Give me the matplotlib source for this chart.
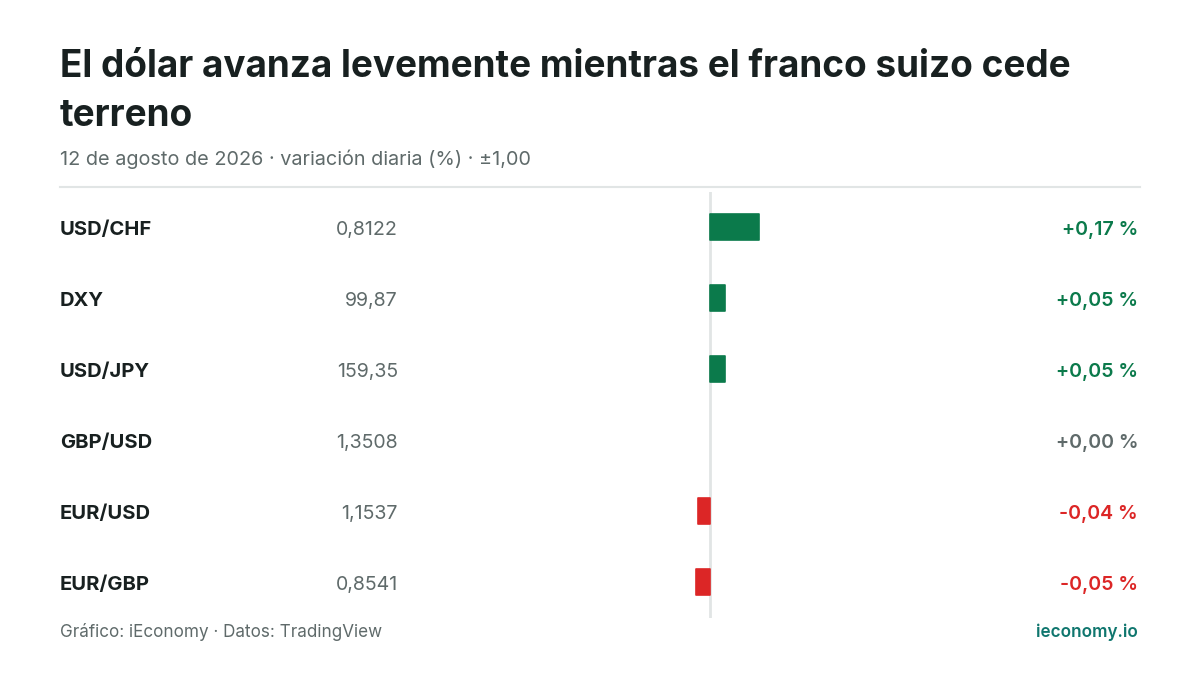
import matplotlib.pyplot as plt
import matplotlib.transforms as mtransforms

# datos del gráfico
pares = ['USD/CHF', 'DXY', 'USD/JPY', 'GBP/USD', 'EUR/USD', 'EUR/GBP']
cotizaciones = ['0,8122', '99,87', '159,35', '1,3508', '1,1537', '0,8541']
variaciones = [0.17, 0.05, 0.05, 0.00, -0.04, -0.05]

titulo_1 = 'El dólar avanza levemente mientras el franco suizo cede'
titulo_2 = 'terreno'
subtitulo = '12 de agosto de 2026 · variación diaria (%) · ±1,00'
fuente = 'Gráfico: iEconomy · Datos: TradingView'
marca = 'ieconomy.io'

VERDE = '#0b7a4b'
ROJO = '#dc2626'
GRIS = '#5f6a6a'
OSCURO = '#182020'

plt.rcParams['font.family'] = ['Inter', 'DejaVu Sans']

W, H = 1200, 675
fig = plt.figure(figsize=(12, 6.75), dpi=100)
fig.patch.set_facecolor('white')

def fx(px):
    return px / W

def fy(py):
    return 1 - py / H

# titulo y subtitulo
fig.text(fx(60), fy(77), titulo_1, fontsize=26.6, fontweight='bold',
         color=OSCURO, va='baseline')
fig.text(fx(60), fy(126), titulo_2, fontsize=26.6, fontweight='bold',
         color=OSCURO, va='baseline')
fig.text(fx(60), fy(165), subtitulo, fontsize=14.3, color=GRIS, va='baseline')

# linea separadora
fig.add_artist(plt.Line2D([fx(60), fx(1140)], [fy(187), fy(187)],
                          transform=fig.transFigure, color='#e1e5e5', lw=1.5))

# ejes de barras: 420..1000 px, filas 191.5..617.5 px
ax = fig.add_axes([fx(420), fy(617.5), fx(580), 426 / H])
ax.set_xlim(-1, 1)
ax.set_ylim(len(pares) - 0.5, -0.5)
ax.axis('off')

filas = list(range(len(pares)))
colores = [VERDE if v > 0 else (ROJO if v < 0 else GRIS) for v in variaciones]
bordes = [c if v != 0 else 'none' for c, v in zip(colores, variaciones)]
ax.barh(filas, variaciones, height=0.38, color=colores, edgecolor=bordes,
        linewidth=1.2, joinstyle='round', zorder=2)
ax.axvline(0, color='#e1e5e5', lw=2, zorder=1)

# textos por fila
baja = mtransforms.ScaledTranslation(0, -8 / 100, fig.dpi_scale_trans)
trans = mtransforms.blended_transform_factory(fig.transFigure, ax.transData) + baja

for i in filas:
    v = variaciones[i]
    fig.text(fx(60), i, pares[i], transform=trans, fontsize=14.5,
             fontweight='bold', color=OSCURO, va='baseline')
    fig.text(fx(398), i, cotizaciones[i], transform=trans, fontsize=14.1,
             color=GRIS, va='baseline', ha='right')
    txt = ('+' if v >= 0 else '-') + f'{abs(v):.2f}'.replace('.', ',') + ' %'
    fig.text(fx(1138), i, txt, transform=trans, fontsize=14.1,
             fontweight='semibold', color=colores[i], va='baseline', ha='right')

# pie
fig.text(fx(60), fy(637), fuente, fontsize=12.3, color=GRIS, va='baseline')
fig.text(fx(1138), fy(637), marca, fontsize=12.3, fontweight='semibold',
         color='#0f766e', va='baseline', ha='right')

fig.savefig('out.png', dpi=100, facecolor='white')
